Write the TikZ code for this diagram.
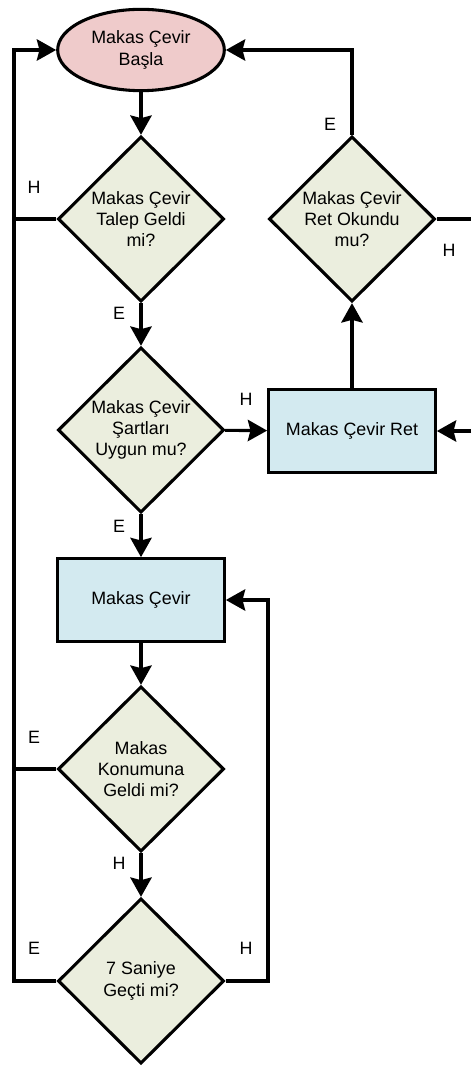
\documentclass[tikz,border=0pt]{standalone}
\usepackage{fontspec}
\setmainfont{Liberation Sans}
\usetikzlibrary{shapes.geometric,arrows.meta}
\definecolor{startfill}{HTML}{EFCBCB}
\definecolor{decfill}{HTML}{EBEEDE}
\definecolor{procfill}{HTML}{D3EAF0}
\tikzset{
  base/.style={draw=black, line width=2.3pt, align=center, inner sep=0pt,
    font=\fontsize{13.4}{15.9}\selectfont},
  startnode/.style={base, ellipse, fill=startfill, minimum width=125pt, minimum height=61pt},
  decision/.style={base, diamond, fill=decfill, minimum width=124.5pt, minimum height=124pt},
  process/.style={base, rectangle, fill=procfill, minimum width=125pt, minimum height=62pt},
  conn/.style={line width=2.3pt, draw=black},
  arr/.style={conn, -{Stealth[length=14.5pt, width=16pt, inset=2pt]}},
  lbl/.style={font=\fontsize{13.4}{15.9}\selectfont, inner sep=0pt},
}
\begin{document}
\begin{tikzpicture}[x=0.75pt, y=-0.75pt]
\useasboundingbox (0,0) rectangle (471,1066);

% main column
\node[startnode] (start) at (141,50) {Makas Çevir\\Başla};
\node[decision] (talep) at (141,219) {Makas Çevir\\Talep Geldi\\mi?};
\node[decision] (sart) at (141,430) {Makas Çevir\\Şartları\\Uygun mu?};
\node[process] (cevir) at (141,600) {Makas Çevir};
\node[decision] (konum) at (141,769) {Makas\\Konumuna\\Geldi mi?};
\node[decision] (sure) at (141,981) {7 Saniye\\Geçti mi?};

% rejection branch
\node[process] (ret) at (352,431) {Makas Çevir Ret};
\node[decision] (okundu) at (352,219) {Makas Çevir\\Ret Okundu\\mu?};

% loop rails and free ends
\coordinate (lrail) at (14,50);
\coordinate (rrail) at (268,600);
\coordinate (outA) at (471,219);
\coordinate (outB) at (471,431);

% connectors
\draw[arr] (start) -- (talep);
\draw[arr] (talep) -- (sart);
\draw[arr] (sart) -- (ret);
\draw[arr] (sart) -- (cevir);
\draw[arr] (cevir) -- (konum);
\draw[arr] (konum) -- (sure);
\draw[arr] (ret) -- (okundu);
\draw[arr] (okundu.north) |- (start.east);
\draw[conn] (okundu.east) -- (outA);
\draw[arr] (outB) -- (ret.east);
\draw[arr] (sure.west) -| (lrail) -- (start.west);
\draw[conn] (talep.west) -- (talep.west -| lrail);
\draw[conn] (konum.west) -- (konum.west -| lrail);
\draw[arr] (sure.east) -| (rrail) -- (cevir.east);

% branch labels
\node[lbl] (l1) at (34,187) {H};
\node[lbl] (l2) at (119,313) {E};
\node[lbl] (l3) at (330,124) {E};
\node[lbl] (l4) at (449,250) {H};
\node[lbl] (l5) at (246,399) {H};
\node[lbl] (l6) at (119,526) {E};
\node[lbl] (l7) at (34,737) {E};
\node[lbl] (l8) at (119,863) {H};
\node[lbl] (l9) at (34,948) {E};
\node[lbl] (l10) at (246,948) {H};
\end{tikzpicture}
\end{document}
